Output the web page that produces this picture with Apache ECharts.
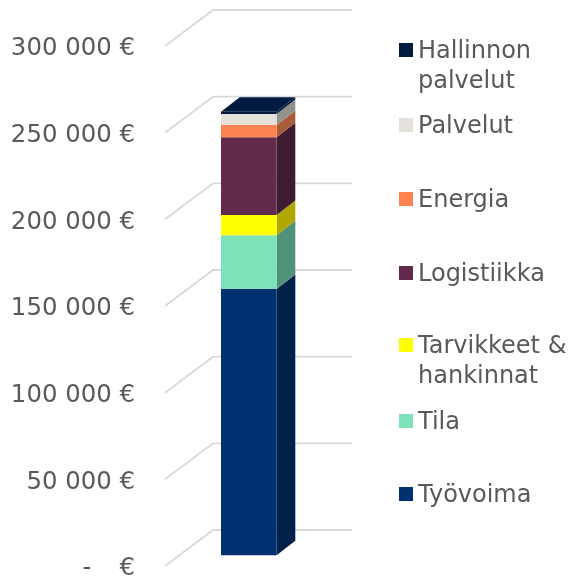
<!DOCTYPE html>
<html lang="fi">
<head>
    <meta charset="UTF-8">
    <title>Kustannukset</title>
    <script src="https://cdn.jsdelivr.net/npm/echarts@6/dist/echarts.min.js"></script>
    <style>
        html, body { margin: 0; padding: 0; background: #fff; }
    </style>
</head>
<body>
    <div id="main" style="width: 574px; height: 577px"></div>
<script>
    // values, bottom segment first
    var categories = ['Kustannukset'];
    var names = ['Työvoima', 'Tila', 'Tarvikkeet & hankinnat', 'Logistiikka', 'Energia', 'Palvelut', 'Hallinnon palvelut'];
    var values = [153600, 31000, 11700, 44850, 7100, 6350, 1300];
    var yTicks = [0, 50000, 100000, 150000, 200000, 250000, 300000];

    var colors = ['#003070', '#7CE3B8', '#FFFF00', '#622A4B', '#FF8350', '#E3E1DA', '#001B3F'];
    var sideColors = ['#002149', '#4F9279', '#B0A800', '#3F1B31', '#A85D39', '#93928C', '#001B3F'];

    // legend swatch centres, and the labels as they wrap (swatch stays on the first line)
    var legendY = [494, 421, 345, 273, 199, 125, 50];
    var legendLines = {
        'Tarvikkeet & hankinnat': ['Tarvikkeet &', 'hankinnat'],
        'Hallinnon palvelut': ['Hallinnon', 'palvelut']
    };

    // fake 3D: the grid is the front edge of the floor, the wall sits behind it
    var wallDx = 48, wallDy = 36;
    var barGapDx = 14.3, barGapDy = 10.7;
    var barDepthDx = 18.7, barDepthDy = 14.6;
    var barShare = 0.4;

    function wallItem(params, api) {
        var p = api.coord([0, api.value(0)]);
        var left = params.coordSys.x;
        var right = left + params.coordSys.width + wallDx;
        return {
            type: 'polyline',
            shape: { points: [[left, p[1]], [left + wallDx, p[1] - wallDy], [right, p[1] - wallDy]] },
            style: { stroke: '#D9D9D9', lineWidth: 1.8, fill: null },
            silent: true
        };
    }

    function segmentItem(idx) {
        return function (params, api) {
            var bottom = api.coord([api.value(0), api.value(1)]);
            var top = api.coord([api.value(0), api.value(2)]);
            var w = api.size([1, 0])[0] * barShare;
            var x0 = bottom[0] - w / 2 + barGapDx;
            var x1 = x0 + w;
            var y0 = bottom[1] - barGapDy;
            var y1 = top[1] - barGapDy;
            var children = [
                {
                    type: 'polygon',
                    shape: { points: [[x1, y0], [x1 + barDepthDx, y0 - barDepthDy], [x1 + barDepthDx, y1 - barDepthDy], [x1, y1]] },
                    style: { fill: sideColors[idx] }
                },
                {
                    type: 'rect',
                    shape: { x: x0, y: y1, width: w, height: y0 - y1 },
                    style: { fill: colors[idx] }
                }
            ];
            if (idx === names.length - 1) {
                children.push({
                    type: 'polygon',
                    shape: { points: [[x0, y1], [x0 + barDepthDx, y1 - barDepthDy], [x1 + barDepthDx, y1 - barDepthDy], [x1, y1]] },
                    style: { fill: colors[idx] }
                });
            }
            return { type: 'group', children: children };
        };
    }

    var series = [{
        name: 'wall',
        type: 'custom',
        renderItem: wallItem,
        data: yTicks.map(function (t) { return [t]; }),
        encode: { y: 0 },
        silent: true,
        z: 1
    }];

    var base = 0;
    names.forEach(function (name, i) {
        series.push({
            name: name,
            type: 'custom',
            renderItem: segmentItem(i),
            itemStyle: { color: colors[i] },
            data: [[0, base, base + values[i]]],
            encode: { x: 0, y: [1, 2] },
            z: 2 + i
        });
        base += values[i];
    });

    // one legend per entry, the original spacing is not even
    var legends = names.map(function (name, i) {
        var lines = legendLines[name];
        return {
            data: [name],
            left: 399,
            top: legendY[i] - (lines ? 45 : 15),
            icon: 'rect',
            itemWidth: 14,
            itemHeight: 14,
            selectedMode: false,
            padding: 0,
            formatter: function (n) {
                // empty first line so the swatch sits level with the first text line
                if (legendLines[n]) {
                    return '{t| }\n{t|' + legendLines[n].join('}\n{t|') + '}';
                }
                return '{t|' + n + '}';
            },
            textStyle: {
                color: '#595959',
                fontFamily: 'DejaVu Sans',
                fontSize: 24,
                lineHeight: 30,
                rich: {
                    t: { color: '#595959', fontFamily: 'DejaVu Sans', fontSize: 24, lineHeight: 30, padding: [3, 0, 0, 0] }
                }
            }
        };
    });

    var myChart = echarts.init(document.getElementById('main'), null, { renderer: 'canvas' });
    myChart.setOption({
        animation: false,
        backgroundColor: '#fff',
        tooltip: { show: false },
        legend: legends,
        grid: { left: 165, top: 46, width: 139, height: 520, outerBoundsMode: 'none' },
        xAxis: {
            type: 'category',
            data: categories,
            show: false
        },
        yAxis: {
            type: 'value',
            min: 0,
            max: 300000,
            interval: 50000,
            axisLine: { show: false },
            axisTick: { show: false },
            splitLine: { show: false },
            axisLabel: {
                margin: 30,
                formatter: function (v) {
                    if (v === 0) return '{l|-   \u2009€}';
                    return '{l|' + String(v).replace(/\B(?=(\d{3})+$)/g, ' ') + ' €}';
                },
                rich: {
                    l: { color: '#595959', fontFamily: 'DejaVu Sans', fontSize: 24.4, padding: [6, 0, 0, 0] }
                }
            }
        },
        series: series
    });
</script>
</body>
</html>
